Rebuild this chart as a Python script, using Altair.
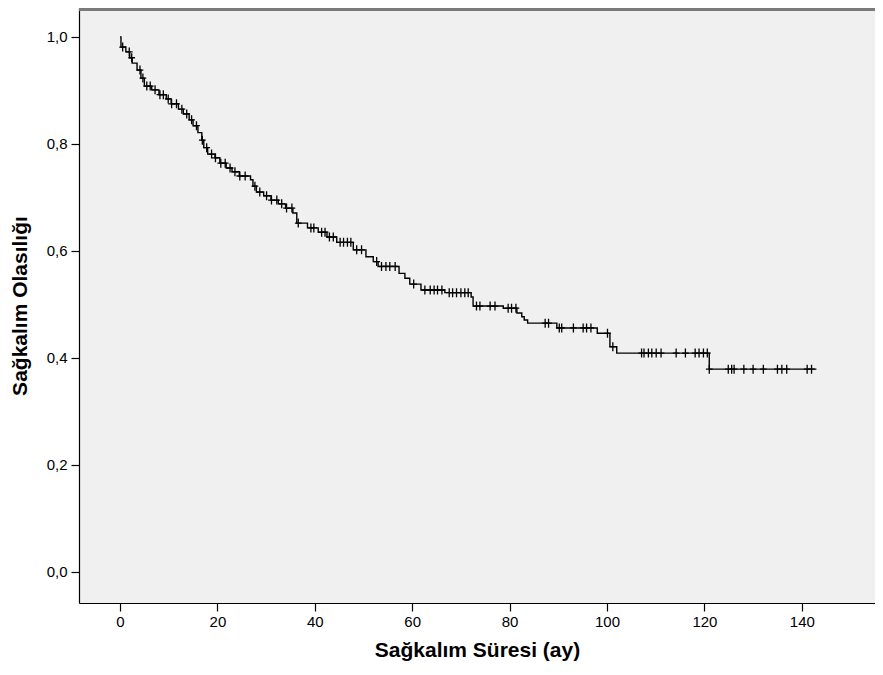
import altair as alt
import numpy as np
import pandas as pd

# Kaplan-Meier step points (time in months, survival after event)
event_t = [0, 0.2, 1.2, 2.0, 2.5, 3.5, 4.3, 5.0, 6.5, 8.0, 9.5, 10.5, 12.0, 13.0,
           14.2, 15.0, 16.0, 16.8, 17.2, 18.0, 19.5, 20.5, 21.8, 23.0, 24.5, 26.8,
           27.3, 28.0, 29.5, 31.0, 32.5, 34.0, 35.5, 36.3, 38.5, 40.7, 42.5, 44.5,
           47.9, 50.5, 52.0, 53.0, 57.3, 58.5, 59.5, 61.8, 66.7, 72.1, 72.5, 78.7,
           81.5, 82.5, 83.0, 83.7, 89.7, 98.0, 100.6, 102.0, 121.0, 143.0]
event_s = [1.0, 0.981, 0.972, 0.961, 0.951, 0.938, 0.923, 0.908, 0.901, 0.892,
           0.884, 0.875, 0.865, 0.856, 0.845, 0.834, 0.821, 0.807, 0.793, 0.781,
           0.774, 0.764, 0.755, 0.748, 0.740, 0.733, 0.721, 0.710, 0.703, 0.695,
           0.688, 0.680, 0.671, 0.652, 0.643, 0.635, 0.626, 0.616, 0.602, 0.589,
           0.580, 0.571, 0.558, 0.549, 0.538, 0.527, 0.522, 0.514, 0.497, 0.493,
           0.484, 0.477, 0.471, 0.465, 0.456, 0.446, 0.421, 0.409, 0.379, 0.379]

# Censored observation times (months)
censor_t = [0.55, 1.9, 2.4, 4.1, 4.7, 5.5, 6.2, 7.2, 8.2, 8.9, 9.9, 10.6, 11.6,
            12.7, 13.7, 14.7, 15.7, 16.9, 17.8, 18.8, 19.6, 20.7, 21.6, 22.6, 23.6,
            24.6, 25.7, 27.7, 28.7, 30.1, 31.1, 32.2, 33.2, 34.2, 35.3, 36.6, 39.2,
            39.8, 41.4, 42.1, 43.0, 43.8, 45.2, 45.9, 46.7, 47.4, 48.6, 49.6, 52.7,
            53.7, 54.6, 55.4, 56.5, 60.3, 62.6, 63.7, 64.5, 65.2, 66.1, 67.6, 68.3,
            69.1, 70.0, 70.8, 71.5, 73.2, 73.9, 76.0, 77.0, 79.7, 80.4, 81.3, 87.3,
            88.0, 90.2, 90.7, 93.1, 95.1, 95.8, 96.7, 100.1, 101.2, 107.1, 107.6,
            108.5, 109.2, 110.1, 111.1, 114.2, 116.1, 118.1, 118.9, 119.8, 120.6,
            121.0, 124.9, 125.6, 126.1, 128.1, 130.0, 132.1, 135.0, 135.9, 136.9,
            141.1, 142.0]

x_ticks = [0, 20, 40, 60, 80, 100, 120, 140]
y_ticks = [0.0, 0.2, 0.4, 0.6, 0.8, 1.0]

steps = pd.DataFrame({"t": event_t, "s": event_s})
idx = np.searchsorted(np.array(event_t), np.array(censor_t), side="right") - 1
cens = pd.DataFrame({"t": censor_t, "s": np.array(event_s)[idx]})

FONT = "Liberation Sans"
W, H = 796, 595

x_enc = alt.X("t:Q", scale=alt.Scale(domain=[-8.42, 155.03], nice=False, zero=False),
              axis=alt.Axis(values=x_ticks, title="Sağkalım Süresi (ay)", grid=False,
                            tickSize=8, labelPadding=3, titlePadding=10,
                            labelFontSize=15, titleFontSize=21, titleFontWeight="bold"))
y_enc = alt.Y("s:Q", scale=alt.Scale(domain=[-0.058, 1.054], nice=False, zero=False),
              axis=alt.Axis(values=y_ticks, title="Sağkalım Olasılığı", grid=False,
                            tickSize=8, labelPadding=4, titlePadding=16,
                            labelExpr="replace(format(datum.value, '.1f'), '.', ',')",
                            labelFontSize=15, titleFontSize=21, titleFontWeight="bold"))

line = alt.Chart(steps).mark_line(interpolate="step-after", color="black",
                                  strokeWidth=1.4).encode(x=x_enc, y=y_enc)

pts = alt.Chart(cens).mark_point(shape="M-0.75,0L0.75,0M0,-1L0,1", size=81,
                                 filled=False, color="black", strokeWidth=1.3,
                                 opacity=1).encode(x="t:Q", y="s:Q")

top_border = alt.Chart(steps).mark_rule(color="#7a7a7a", strokeWidth=3).encode(
    x=alt.value(0), x2=alt.value(W), y=alt.value(1))

chart = (alt.layer(line, pts, top_border)
         .properties(width=W, height=H,
                     padding={"left": 71, "top": 0, "right": 0, "bottom": 60},
                     autosize=alt.AutoSizeParams(type="none"),
                     background="white")
         .configure_view(fill="#F0F0F0", stroke=None)
         .configure_axis(domainColor="black", tickColor="black", labelColor="black",
                         titleColor="black", labelFont=FONT, titleFont=FONT,
                         domainWidth=1.2, tickWidth=1.2))

chart.save("out.html", embed_options={"renderer": "svg", "actions": False})
